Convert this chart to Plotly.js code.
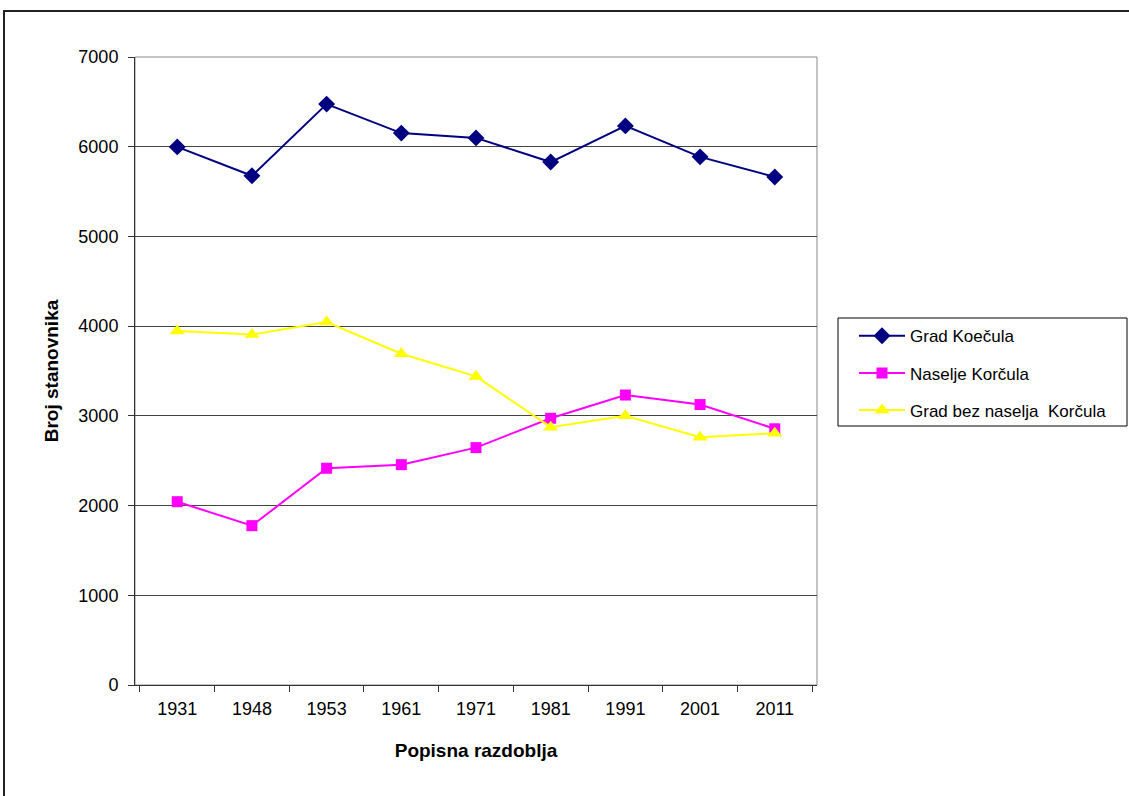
<!DOCTYPE html>
<html>
<head>
<meta charset="utf-8">
<script src="https://cdn.plot.ly/plotly-3.0.1.min.js"></script>
<style>
  html, body { margin: 0; padding: 0; background: #fff; }
  #frame { position: absolute; left: 3px; top: 10px; width: 1200px; height: 900px;
           border-top: 2px solid #222; border-left: 2px solid #222; box-sizing: border-box; }
  #chart { position: absolute; left: 0; top: 0; width: 1129px; height: 796px; }
</style>
</head>
<body>
<div id="frame"></div>
<div id="chart"></div>
<script>
const years = ['1931', '1948', '1953', '1961', '1971', '1981', '1991', '2001', '2011'];
const gradKorcula = [5998, 5676, 6475, 6152, 6098, 5829, 6232, 5887, 5663];
const naseljeKorcula = [2043, 1776, 2416, 2456, 2646, 2973, 3232, 3126, 2856];
const gradBezNaselja = [3945, 3906, 4045, 3692, 3440, 2874, 3000, 2761, 2807];
const seriesNames = ['Grad Koečula', 'Naselje Korčula', 'Grad bez naselja\u00a0\u00a0Korčula'];
const yTicks = [0, 1000, 2000, 3000, 4000, 5000, 6000, 7000];

const font = 'Liberation Sans, Arial, sans-serif';

const traces = [
  { x: years, y: gradKorcula, name: seriesNames[0], type: 'scatter', mode: 'lines+markers',
    legendgroup: 'a',
    line: { color: '#000080', width: 2 },
    marker: { symbol: 'diamond', size: 13, color: '#000080' } },
  { x: years, y: naseljeKorcula, name: seriesNames[1], type: 'scatter', mode: 'lines+markers',
    legendgroup: 'b',
    line: { color: '#FF00FF', width: 2 },
    marker: { symbol: 'square', size: 11, color: '#FF00FF' } },
  { x: years, y: gradBezNaselja, name: seriesNames[2], type: 'scatter', mode: 'lines+markers',
    legendgroup: 'c',
    line: { color: '#FFFF00', width: 2 },
    marker: { symbol: 'triangle-up', size: 13, color: '#FFFF00' } }
];

const layout = {
  width: 1129, height: 796,
  margin: { l: 135, r: 312, t: 57, b: 111 },
  paper_bgcolor: 'rgba(0,0,0,0)',
  plot_bgcolor: '#ffffff',
  font: { family: font, size: 17, color: '#000' },
  showlegend: true,
  legend: {
    x: (854 - 135) / 682, xanchor: 'left', y: 0.584, yanchor: 'top',
    borderwidth: 0, bgcolor: 'rgba(0,0,0,0)',
    font: { family: font, size: 17, color: '#000' },
    tracegroupgap: 12,
    itemwidth: 46
  },
  xaxis: {
    type: 'category',
    tickvals: years,
    ticktext: years,
    tickson: 'boundaries',
    ticks: 'outside', ticklen: 6, tickcolor: '#333',
    ticklabelstandoff: 7,
    showline: true, linecolor: '#333', linewidth: 1,
    showgrid: false, zeroline: false,
    tickfont: { family: font, size: 18, color: '#000' },
    title: { text: 'Popisna razdoblja', font: { family: font, size: 19, color: '#000', weight: 'bold' }, standoff: 26 }
  },
  yaxis: {
    range: [0, 7000],
    tickvals: yTicks,
    ticks: 'outside', ticklen: 6, tickcolor: '#333',
    ticklabelstandoff: 6,
    showline: true, linecolor: '#333', linewidth: 1,
    showgrid: true, gridcolor: '#444', gridwidth: 1,
    zeroline: false,
    tickfont: { family: font, size: 18, color: '#000' },
    title: { text: 'Broj stanovnika', font: { family: font, size: 19, color: '#000', weight: 'bold' }, standoff: 14 }
  },
  shapes: [
    { type: 'rect', xref: 'paper', yref: 'paper', x0: 0, x1: 1, y0: 0, y1: 1,
      line: { color: '#888', width: 1 }, fillcolor: 'rgba(0,0,0,0)', layer: 'below' },
    { type: 'rect', xref: 'paper', yref: 'paper',
      x0: (838 - 135) / 682, x1: (1127 - 135) / 682, y0: (685 - 426) / 628, y1: (685 - 318) / 628,
      line: { color: '#000', width: 1 }, fillcolor: '#fff', layer: 'below' }
  ]
};

Plotly.newPlot('chart', traces, layout, { displayModeBar: false, staticPlot: true });
</script>
</body>
</html>
